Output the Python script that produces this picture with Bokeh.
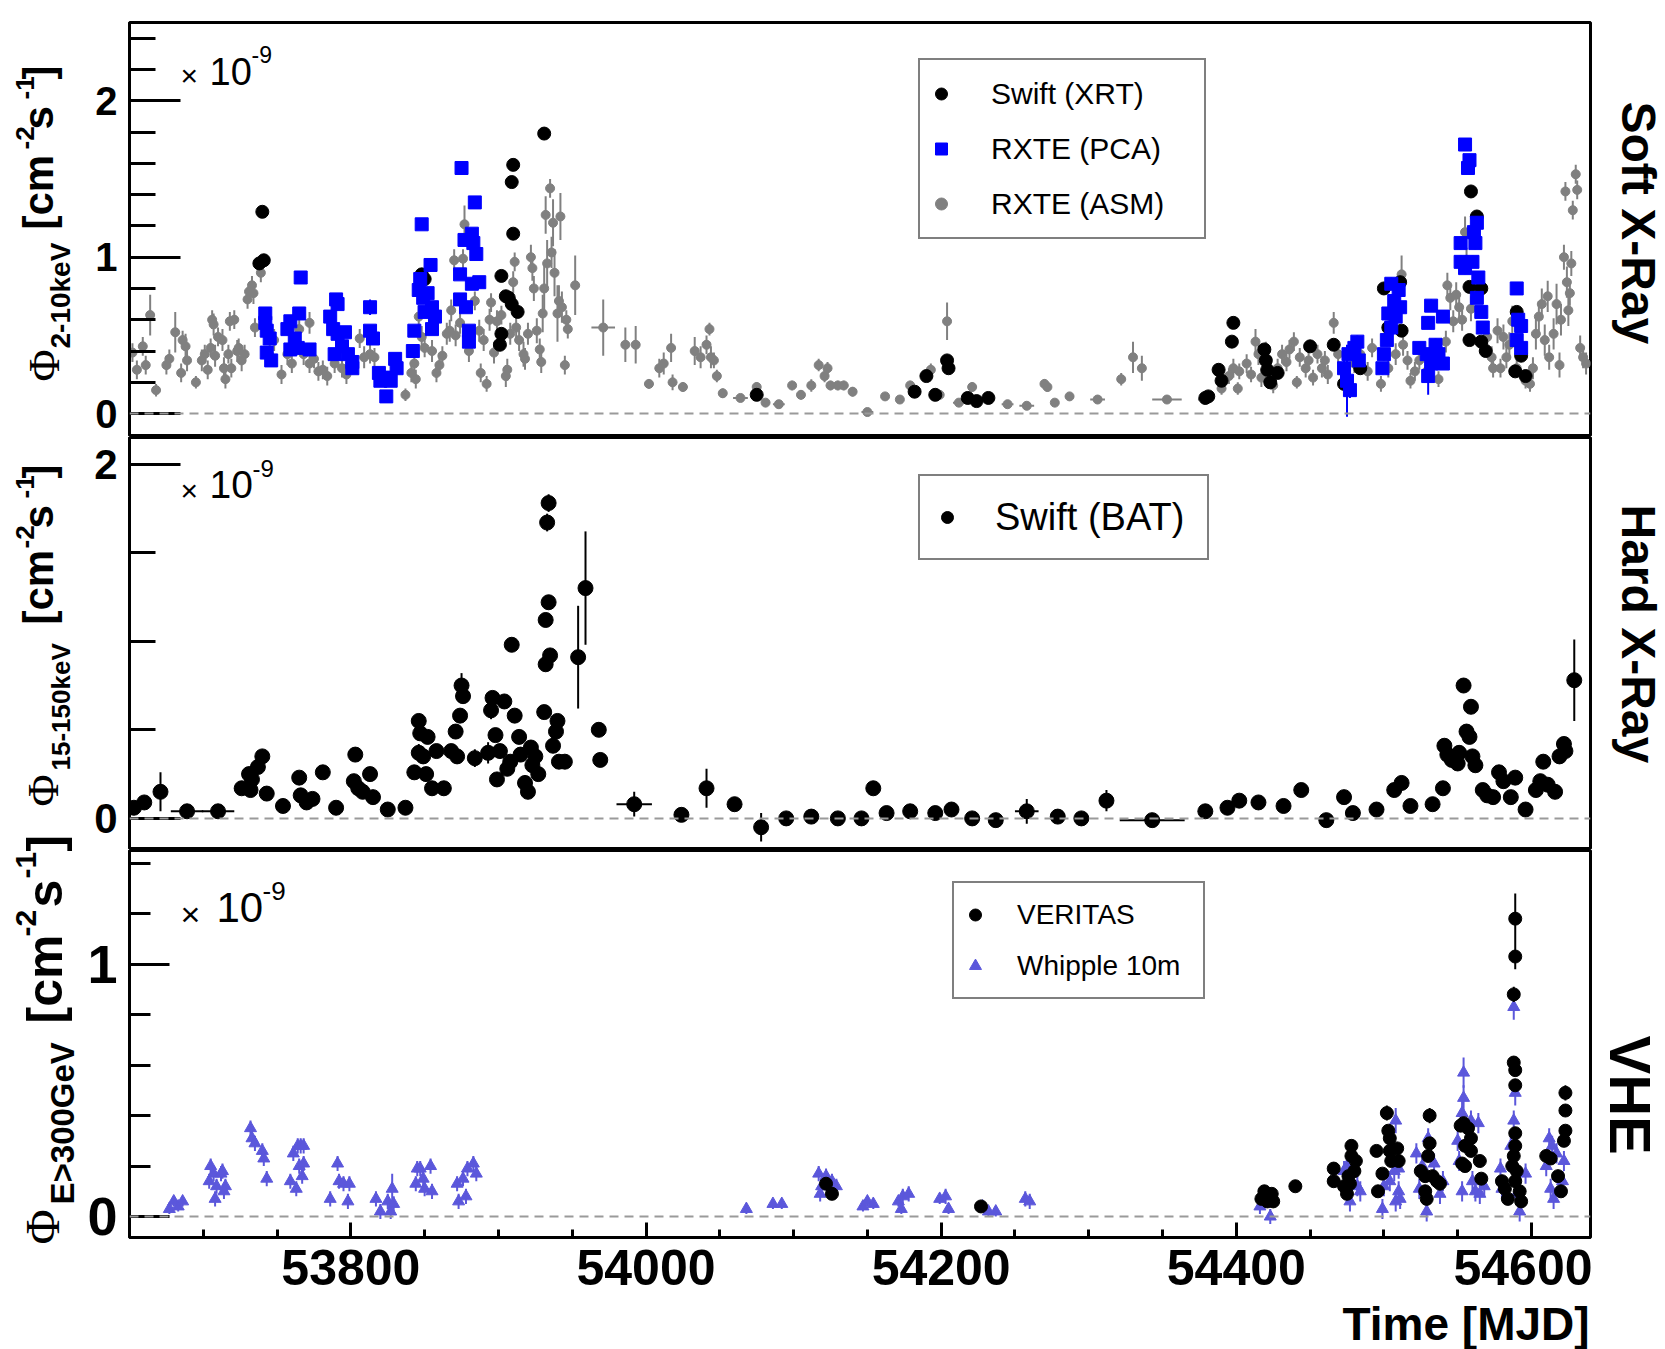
import numpy as np
from math import pi
from bokeh.plotting import figure
from bokeh.models import Range1d, FixedTicker, Label, Legend, LegendItem, ColumnDataSource, Span
from bokeh.layouts import column, row
from bokeh.embed import file_html
from bokeh.resources import INLINE

# ---------------- data (values in units of 1e-9 cm^-2 s^-1) ----------------
asm_mjd = [53652,53655,53659,53661,53664,53668,53675,53677,53681,53685,53686,53688,53689,53695,53699,53701,53703,53705,53706,53707,
           53708,53710,53713,53714,53715,53717,53718,53719,53721,53723,53724,53726,53728,53730,53731,53733,53734,53735,53739,53745,
           53748,53753,53757,53760,53765,53768,53772,53772,53775,53778,53781,53784,53789,53794,53797,53801,53806,53809,53813,53816,
           53837,53841,53843,53844,53846,53848,53850,53855,53858,53860,53862,53865,53867,53868,53870,53871,53874,53876,53877,53880,
           53884,53887,53888,53890,53892,53894,53895,53897,53899,53902,53905,53906,53908,53910,53911,53912,53914,53917,53918,53920,
           53922,53923,53924,53926,53928,53929,53930,53931,53932,53933,53935,53936,53937,53938,53940,53941,53942,53943,53945,53946,
           53947,53952,53971,53986,53993,54002,54009,54012,54017,54018,54025,54033,54037,54041,54043,54044,54046,54048,54052,54064,
           54075,54081,54090,54099,54105,54112,54117,54121,54123,54125,54130,54134,54140,54150,54162,54172,54179,54193,54199,54204,
           54212,54221,54245,54258,54270,54272,54277,54287,54306,54322,54330,54336,54353,54379,54390,54395,54398,54401,54402,54407,
           54410,54413,54415,54417,54420,54425,54428,54431,54434,54436,54439,54441,54443,54447,54449,54452,54455,54458,54460,54462,
           54466,54469,54473,54480,54484,54489,54492,54498,54503,54508,54512,54513,54516,54518,54521,54524,54529,54535,54537,54542,
           54543,54545,54547,54549,54551,54553,54555,54556,54559,54570,54573,54574,54577,54579,54581,54583,54585,54587,54590,54593,
           54596,54599,54601,54603,54605,54607,54609,54611,54612,54615,54617,54619,54620,54622,54623,54624,54625,54626,54627,54628,
           54630,54631,54633,54635,54637]
asm_flux = [0.39,0.28,0.43,0.31,0.63,0.15,0.31,0.35,0.52,0.26,0.47,0.43,0.34,0.20,0.34,0.38,0.28,0.42,0.60,0.57,
            0.37,0.49,0.47,0.29,0.22,0.38,0.59,0.29,0.60,0.40,0.42,0.34,0.38,0.73,0.78,0.82,0.77,0.55,0.90,0.37,
            0.47,0.25,0.38,0.32,0.54,0.38,0.58,0.32,0.35,0.27,0.28,0.24,0.32,0.29,0.25,0.31,0.48,0.36,0.38,0.36,
            0.12,0.26,0.32,0.22,0.62,0.49,0.42,0.40,0.26,0.31,0.37,0.51,0.53,0.66,0.98,0.50,0.58,0.99,1.21,0.40,
            0.72,0.53,0.26,0.47,0.19,0.60,0.71,0.39,0.59,0.63,0.24,0.28,0.51,0.84,0.97,0.55,0.47,0.38,0.35,0.51,
            1.00,0.93,0.80,0.53,0.41,0.33,0.64,0.80,1.27,0.96,1.44,1.03,1.22,0.90,0.64,0.72,1.26,0.68,0.31,0.60,
            0.54,0.82,0.55,0.44,0.44,0.19,0.29,0.32,0.42,0.20,0.17,0.40,0.36,0.44,0.54,0.36,0.34,0.24,0.13,0.10,
            0.17,0.07,0.06,0.18,0.12,0.18,0.31,0.24,0.29,0.18,0.18,0.18,0.14,0.01,0.11,0.09,0.18,0.28,0.12,0.59,
            0.07,0.17,0.06,0.05,0.19,0.17,0.07,0.11,0.09,0.22,0.36,0.29,0.09,0.09,0.16,0.24,0.29,0.16,0.27,0.32,
            0.25,0.46,0.38,0.23,0.40,0.18,0.29,0.38,0.33,0.41,0.46,0.20,0.36,0.29,0.34,0.23,0.38,0.29,0.34,0.25,
            0.58,0.38,0.29,0.32,0.38,0.27,0.42,0.19,0.29,0.38,0.89,0.44,0.34,0.21,0.27,0.34,0.27,0.38,0.22,0.46,
            0.82,0.74,0.59,0.76,0.68,0.60,1.16,0.98,0.67,0.49,0.36,0.29,0.53,0.29,0.49,0.36,0.44,0.59,0.29,0.42,
            0.21,0.19,0.29,0.51,0.62,0.70,0.47,0.75,0.36,0.51,0.70,0.31,0.60,1.00,1.42,0.84,0.66,0.77,0.96,1.30,
            1.53,1.43,0.42,0.36,0.32]
asm_err = [0.06,0.06,0.06,0.06,0.13,0.04,0.06,0.06,0.13,0.06,0.06,0.08,0.07,0.04,0.07,0.06,0.06,0.06,0.06,0.07,
           0.07,0.06,0.07,0.07,0.06,0.06,0.06,0.06,0.06,0.07,0.06,0.07,0.06,0.06,0.06,0.06,0.07,0.06,0.06,0.07,
           0.07,0.06,0.07,0.06,0.08,0.07,0.07,0.06,0.06,0.06,0.06,0.06,0.06,0.06,0.06,0.06,0.06,0.07,0.06,0.06,
           0.04,0.06,0.06,0.06,0.07,0.07,0.06,0.07,0.06,0.06,0.06,0.07,0.07,0.07,0.07,0.07,0.07,0.06,0.12,0.07,
           0.06,0.07,0.06,0.07,0.05,0.07,0.06,0.07,0.07,0.06,0.07,0.07,0.07,0.07,0.06,0.07,0.07,0.08,0.07,0.07,
           0.08,0.08,0.08,0.08,0.07,0.07,0.12,0.15,0.12,0.15,0.06,0.10,0.15,0.15,0.18,0.10,0.15,0.10,0.06,0.06,
           0.06,0.19,0.18,0.11,0.12,0.03,0.06,0.07,0.09,0.05,0.03,0.09,0.07,0.06,0.04,0.07,0.05,0.04,0.03,0.02,
           0.03,0.02,0.02,0.03,0.03,0.04,0.04,0.04,0.04,0.03,0.03,0.03,0.03,0.02,0.02,0.02,0.03,0.04,0.03,0.12,
           0.02,0.03,0.02,0.02,0.03,0.03,0.02,0.02,0.02,0.04,0.10,0.08,0.02,0.02,0.04,0.05,0.06,0.04,0.05,0.06,
           0.05,0.08,0.07,0.06,0.06,0.05,0.06,0.06,0.06,0.06,0.06,0.04,0.06,0.06,0.06,0.05,0.06,0.06,0.06,0.06,
           0.07,0.06,0.06,0.06,0.06,0.06,0.06,0.05,0.06,0.07,0.12,0.07,0.06,0.05,0.06,0.06,0.06,0.07,0.05,0.07,
           0.08,0.08,0.07,0.08,0.08,0.07,0.10,0.08,0.08,0.07,0.07,0.06,0.08,0.06,0.08,0.07,0.08,0.10,0.06,0.08,
           0.05,0.05,0.07,0.10,0.10,0.10,0.10,0.10,0.08,0.10,0.13,0.08,0.10,0.08,0.06,0.10,0.10,0.08,0.08,0.06,
           0.06,0.06,0.08,0.07,0.07]
asm_xerr_mjd = [53971,54002,54025,54064,54090,54130,54134,54150,54212,54245,54258,54287,54306,54353,54379]
asm_xerr_flux = [0.55,0.19,0.17,0.10,0.06,0.18,0.18,0.01,0.07,0.06,0.05,0.11,0.09,0.09,0.09]
asm_xerr_days = [8,3,3,5,4,3,3,4,4,4,5,3,5,10,5]

pca_mjd = [53742,53742,53743,53745,53743,53746,53766,53759,53757,53765,53762,53759,53764,53772,
           53790,53791,53786,53788,53791,53796,53794,53789,53798,53801,53801,
           53813,53813,53815,53819,53820,53823,53824,53827,53830,53831,
           53842,53843,53847,53848,53846,53849,53852,53854,53850,53855,53857,53855,
           53874,53875,53874,53878,53877,53882,53883,53884,53885,53882,53887,53880,53880,
           54473,54475,54477,54476,54480,54482,54483,
           54499,54500,54502,54503,54505,54507,54508,54510,54511,54505,
           54532,54530,54540,54524,54529,54532,54537,54540,54530,54535,
           54555,54558,54557,54563,54561,54552,54562,54552,54555,54560,54564,54563,54566,54567,
           54590,54591,54593,54590,54593]
pca_flux = [0.64,0.58,0.53,0.48,0.39,0.34,0.87,0.59,0.54,0.64,0.48,0.41,0.42,0.41,
            0.73,0.70,0.62,0.54,0.51,0.52,0.43,0.38,0.38,0.33,0.29,
            0.68,0.53,0.48,0.26,0.21,0.23,0.11,0.21,0.35,0.29,
            0.40,0.53,0.86,1.21,0.79,0.74,0.77,0.95,0.65,0.68,0.62,0.54,
            0.89,1.57,0.73,0.68,1.11,1.15,1.09,1.35,1.02,0.83,0.84,0.53,0.46,
            0.29,0.21,0.15,0.38,0.42,0.46,0.34,
            0.29,0.38,0.47,0.64,0.83,0.72,0.62,0.79,0.68,0.55,
            0.69,0.58,0.62,0.42,0.38,0.32,0.38,0.32,0.24,0.44,
            1.72,1.62,1.57,1.22,1.16,1.09,1.09,0.97,0.93,0.97,0.87,0.74,0.65,0.55,
            0.80,0.60,0.56,0.47,0.42]
pca_err = [0.03,0.03,0.03,0.03,0.03,0.03,0.03,0.03,0.03,0.03,0.03,0.03,0.03,0.03,
           0.03,0.03,0.03,0.03,0.03,0.03,0.03,0.03,0.03,0.03,0.03,
           0.05,0.03,0.03,0.03,0.03,0.03,0.03,0.03,0.03,0.03,
           0.03,0.03,0.03,0.03,0.03,0.03,0.03,0.03,0.03,0.03,0.03,0.03,
           0.03,0.03,0.03,0.03,0.03,0.03,0.03,0.03,0.03,0.03,0.03,0.03,0.03,
           0.05,0.23,0.05,0.04,0.04,0.04,0.04,
           0.04,0.04,0.04,0.04,0.04,0.04,0.04,0.04,0.04,0.04,
           0.04,0.04,0.04,0.04,0.04,0.04,0.04,0.04,0.12,0.04,
           0.04,0.04,0.04,0.04,0.04,0.04,0.04,0.04,0.04,0.04,0.04,0.04,0.04,0.04,
           0.04,0.04,0.04,0.04,0.04]

xrt_mjd = [53740,53738,53741,53848,53850,53910,53909,53910,53931,53902,53905,53907,53909,53913,53902,53901,54075,
           54182,54190,54196,54204,54205,54218,54224,54232,54379,54381,54388,54390,54398,54397,54419,54420,54421,
           54423,54428,54450,54466,54484,54473,54500,54511,54512,54503,54559,54563,54558,54566,54558,54566,54569,
           54590,54593,54589,54596]
xrt_flux = [1.29,0.96,0.98,0.89,0.86,1.59,1.48,1.15,1.79,0.88,0.75,0.74,0.70,0.65,0.51,0.44,0.12,
            0.14,0.24,0.12,0.34,0.29,0.10,0.08,0.10,0.10,0.11,0.28,0.21,0.58,0.46,0.41,0.34,0.28,
            0.20,0.26,0.43,0.44,0.29,0.19,0.80,0.84,0.53,0.55,1.42,1.26,0.81,0.80,0.47,0.46,0.40,
            0.65,0.37,0.27,0.24]
xrt_err = [0.03,0.03,0.03,0.03,0.03,0.03,0.03,0.03,0.03,0.03,0.03,0.03,0.03,0.03,0.03,0.03,0.02,
           0.02,0.02,0.02,0.02,0.02,0.02,0.02,0.02,0.02,0.02,0.02,0.02,0.03,0.03,0.02,0.02,0.02,
           0.02,0.02,0.02,0.02,0.02,0.02,0.03,0.03,0.03,0.03,0.03,0.03,0.03,0.03,0.03,0.03,0.03,
           0.03,0.02,0.02,0.02]

bat_mjd = [53653,53660,53671,53689,53710,53726,53731,53733,53737,53740,53732,53743,53754,53765,53766,53770,53774,53781,53790,53803,
           53802,53805,53808,53813,53815,53825,53837,53843,53846,53847,53846,53849,53852,53851,53855,53858,53863,53868,53871,53874,
           53875,53876,53872,53884,53893,53895,53896,53898,53899,53901,53904,53906,53908,53909,53911,53914,53915,53918,53920,53922,
           53923,53925,53927,53931,53932,53932,53934,53933,53934,53935,53937,53939,53940,53941,53945,53954,53959,53968,53969,53992,
           54024,54041,54060,54078,54095,54112,54130,54146,54154,54163,54179,54196,54207,54221,54237,54258,54279,54295,54312,54343,
           54379,54394,54402,54415,54432,54444,54461,54473,54479,54495,54507,54512,54518,54533,54540,54541,54543,54546,54550,54551,
           54554,54556,54558,54559,54560,54562,54567,54570,54574,54578,54581,54586,54589,54596,54603,54606,54608,54611,54616,54619,
           54622,54623,54629]
bat_flux = [0.06,0.09,0.15,0.04,0.04,0.17,0.25,0.22,0.29,0.35,0.16,0.14,0.07,0.23,0.13,0.09,0.11,0.26,0.06,0.36,
            0.21,0.17,0.15,0.25,0.12,0.05,0.06,0.26,0.55,0.48,0.37,0.35,0.46,0.25,0.17,0.38,0.17,0.38,0.49,0.58,
            0.75,0.69,0.35,0.34,0.37,0.61,0.68,0.47,0.22,0.38,0.66,0.28,0.32,0.98,0.58,0.46,0.36,0.20,0.15,0.40,
            0.30,0.35,0.25,0.60,0.87,1.12,1.22,1.67,1.78,0.92,0.41,0.49,0.55,0.32,0.32,0.91,1.30,0.50,0.33,0.08,
            0.02,0.17,0.08,-0.05,0.00,0.01,0.00,0.00,0.17,0.03,0.04,0.03,0.05,0.00,-0.01,0.04,0.01,0.00,0.10,-0.01,
            0.04,0.06,0.10,0.09,0.07,0.16,-0.01,0.12,0.03,0.05,0.16,0.20,0.07,0.08,0.17,0.41,0.36,0.33,0.31,0.37,
            0.75,0.49,0.46,0.63,0.35,0.30,0.16,0.13,0.12,0.26,0.21,0.12,0.23,0.05,0.16,0.21,0.32,0.19,0.15,0.35,
            0.42,0.38,0.78]
bat_err = [0.03,0.03,0.11,0.02,0.02,0.03,0.04,0.04,0.03,0.03,0.03,0.03,0.03,0.03,0.03,0.03,0.03,0.03,0.03,0.03,
           0.03,0.03,0.03,0.03,0.03,0.03,0.03,0.04,0.04,0.04,0.05,0.04,0.04,0.04,0.04,0.04,0.04,0.04,0.04,0.04,
           0.07,0.04,0.04,0.05,0.06,0.05,0.04,0.04,0.04,0.04,0.04,0.04,0.04,0.04,0.04,0.04,0.04,0.04,0.04,0.04,
           0.04,0.04,0.04,0.04,0.04,0.04,0.04,0.05,0.05,0.04,0.04,0.04,0.04,0.04,0.04,0.29,0.32,0.04,0.04,0.07,
           0.04,0.11,0.04,0.08,0.03,0.03,0.03,0.03,0.02,0.03,0.03,0.03,0.03,0.02,0.03,0.07,0.03,0.03,0.06,0.02,
           0.03,0.03,0.03,0.03,0.03,0.03,0.04,0.04,0.03,0.03,0.03,0.04,0.03,0.03,0.03,0.04,0.04,0.04,0.04,0.04,
           0.04,0.04,0.04,0.04,0.04,0.04,0.04,0.04,0.04,0.04,0.04,0.04,0.04,0.03,0.04,0.04,0.04,0.04,0.04,0.04,
           0.04,0.04,0.23]
bat_xerr = [3,3,4,11,11,2,2,2,2,2,2,2,2,2,2,2,2,2,3,2,
            2,2,2,2,2,3,2,2,2,2,2,2,2,2,2,2,2,2,2,2,
            2,2,2,2,2,2,2,2,2,2,2,2,2,2,2,2,2,2,2,2,
            2,2,2,2,2,2,2,2,2,2,2,2,2,2,2,0,0,2,2,12,
            3,3,3,0,3,3,3,3,0,3,3,3,2,2,2,8,3,3,2,22,
            3,3,2,2,2,2,3,2,2,2,2,2,2,2,2,2,2,2,2,2,
            2,2,2,2,2,2,2,2,2,2,2,2,2,2,2,2,2,2,2,2,
            2,2,0]

whip_mjd = [53677,53680,53683,53686,53705,53704,53707,53709,53708,53712,53713,53715,53714,
            53732,53733,53735,53740,53741,53743,53759,53761,53764,53766,53768,53765,53768,53767,53763,
            53791,53792,53795,53799,53786,53798,53817,53820,53825,53827,53829,53828,
            53845,53844,53847,53849,53854,53850,53855,53876,53879,53883,53873,53885,53878,53872,
            54068,54086,54092,54117,54119,54122,54126,54129,54118,54147,54150,54154,54171,54174,54178,54173,
            54199,54203,54205,54228,54232,54237,54257,54260,
            54416,54423,54473,54477,54482,54484,54475,54499,54500,54504,54508,54508,54507,54510,54511,54510,
            54522,54524,54526,54529,54530,54534,54538,54540,54554,54554,54553,54550,54551,54553,54559,54560,
            54562,54564,54565,54568,54588,54589,54588,54586,54579,54580,54592,54596,54590,54612,54614,54610,
            54617,54615,54622,54621,54613]
whip_flux = [0.03,0.06,0.04,0.06,0.20,0.14,0.17,0.12,0.07,0.17,0.18,0.12,0.10,
             0.35,0.31,0.29,0.26,0.23,0.15,0.14,0.25,0.28,0.28,0.28,0.20,0.21,0.16,0.11,
             0.21,0.14,0.13,0.13,0.07,0.06,0.07,0.02,0.06,0.02,0.05,0.11,
             0.19,0.13,0.19,0.15,0.20,0.11,0.10,0.15,0.19,0.21,0.06,0.17,0.08,0.13,
             0.03,0.05,0.05,0.17,0.12,0.16,0.14,0.12,0.09,0.04,0.06,0.05,0.06,0.08,0.09,0.03,
             0.07,0.08,0.03,0.04,0.02,0.02,0.07,0.06,
             0.04,0.00,0.18,0.06,0.12,0.10,0.20,0.03,0.12,0.14,0.38,0.06,0.18,0.10,0.07,0.19,
             0.25,0.11,0.20,0.02,0.31,0.21,0.09,0.14,0.57,0.47,0.41,0.30,0.22,0.10,0.38,0.14,
             0.10,0.37,0.09,0.12,0.83,0.49,0.38,0.28,0.19,0.11,0.02,0.17,0.09,0.31,0.28,0.20,
             0.25,0.07,0.22,0.14,0.11]
whip_err = [0.02,0.02,0.02,0.02,0.03,0.03,0.03,0.03,0.03,0.03,0.03,0.03,0.03,
            0.03,0.03,0.03,0.03,0.03,0.03,0.03,0.03,0.03,0.03,0.03,0.03,0.03,0.03,0.03,
            0.03,0.03,0.03,0.03,0.03,0.03,0.03,0.03,0.03,0.03,0.03,0.06,
            0.03,0.03,0.03,0.03,0.03,0.03,0.03,0.03,0.03,0.03,0.03,0.03,0.03,0.03,
            0.02,0.02,0.02,0.03,0.03,0.03,0.03,0.03,0.03,0.02,0.02,0.02,0.02,0.03,0.03,0.02,
            0.02,0.03,0.02,0.02,0.02,0.02,0.03,0.03,
            0.03,0.03,0.04,0.04,0.04,0.04,0.04,0.04,0.04,0.04,0.05,0.04,0.04,0.04,0.04,0.04,
            0.04,0.04,0.04,0.04,0.04,0.04,0.04,0.04,0.06,0.05,0.05,0.04,0.04,0.04,0.04,0.04,
            0.04,0.04,0.04,0.04,0.05,0.05,0.04,0.04,0.04,0.04,0.04,0.04,0.04,0.04,0.04,0.04,
            0.04,0.04,0.04,0.04,0.04]

ver_mjd = [54122,54126,54227,54419,54417,54421,54424,54425,54422,54440,54466,54466,54473,54475,54477,54478,54478,54481,54480,54476,
           54495,54496,54499,54502,54503,54504,54504,54505,54509,54510,54531,54531,54530,54525,54528,54533,54536,54538,54528,54529,
           54552,54554,54557,54559,54555,54559,54553,54555,54565,54566,54589,54589,54588,54588,54589,54589,54589,54589,54588,54587,
           54590,54589,54580,54582,54584,54592,54593,54610,54613,54618,54620,54623,54623,54623,54622]
ver_flux = [0.13,0.09,0.04,0.10,0.07,0.06,0.09,0.06,0.08,0.12,0.19,0.14,0.12,0.09,0.13,0.28,0.24,0.22,0.18,0.16,
            0.26,0.10,0.17,0.41,0.34,0.31,0.26,0.22,0.27,0.22,0.40,0.29,0.24,0.18,0.16,0.16,0.14,0.13,0.10,0.07,
            0.36,0.37,0.35,0.31,0.28,0.26,0.21,0.20,0.22,0.15,1.18,1.03,0.88,0.61,0.58,0.52,0.33,0.28,0.24,0.20,
            0.18,0.14,0.14,0.11,0.07,0.10,0.06,0.24,0.23,0.16,0.10,0.49,0.42,0.34,0.30]
ver_err = [0.02,0.02,0.01,0.02,0.02,0.02,0.02,0.02,0.02,0.02,0.02,0.02,0.02,0.02,0.02,0.02,0.02,0.02,0.02,0.02,
           0.02,0.02,0.02,0.03,0.02,0.02,0.02,0.02,0.02,0.02,0.03,0.02,0.02,0.02,0.02,0.02,0.02,0.02,0.02,0.02,
           0.02,0.02,0.02,0.02,0.02,0.02,0.02,0.02,0.02,0.02,0.10,0.05,0.03,0.02,0.02,0.02,0.02,0.02,0.02,0.02,
           0.02,0.02,0.02,0.02,0.02,0.02,0.02,0.02,0.02,0.02,0.02,0.03,0.02,0.02,0.02]

# ticks
x_major = [53800, 54000, 54200, 54400, 54600]
x_minor = [53700, 53750, 53850, 53900, 53950, 54050, 54100, 54150, 54250, 54300, 54350, 54450, 54500, 54550]
soft_major = [0, 1, 2]
soft_minor = [0.2, 0.4, 0.6, 0.8, 1.2, 1.4, 1.6, 1.8, 2.2, 2.4]
hard_major = [0, 2]
hard_minor = [0.5, 1.0, 1.5]
vhe_major = [0, 1]
vhe_minor = [0.2, 0.4, 0.6, 0.8, 1.2, 1.4]

SANS = "Liberation Sans"
SERIF = "Liberation Serif"
W, H = 1665, 1349
LW = 80            # left title strip width
MW = 1512          # main column width
RW = W - LW - MW   # right label strip width (starts at x=1592)
FRAME_L = 129      # frame left in page pixels

xr = Range1d(53650, 54640)


def make_fig(h, top, bottom, yr, xaxis):
    p = figure(width=MW, height=h, x_range=xr, y_range=Range1d(*yr),
               output_backend="svg", toolbar_location=None,
               x_axis_location="below" if xaxis else None,
               min_border_left=FRAME_L - LW, min_border_right=2,
               min_border_top=top, min_border_bottom=bottom,
               background_fill_color="white", border_fill_color="white",
               outline_line_color="black", outline_line_width=3)
    p.grid.visible = False
    return p


def blank_fig(w, h, bl=0, br=0):
    p = figure(width=w, height=h, x_range=Range1d(0, 1), y_range=Range1d(0, 1),
               output_backend="svg", toolbar_location=None,
               x_axis_location=None, y_axis_location=None,
               min_border_left=bl, min_border_right=br, min_border_top=0, min_border_bottom=0,
               background_fill_color="white", border_fill_color="white", outline_line_color=None)
    p.grid.visible = False
    return p


def style_y(p, major, minor, tin, tmin, fsize):
    ax = p.yaxis[0]
    ax.ticker = FixedTicker(ticks=major, minor_ticks=minor)
    ax.major_tick_in = tin
    ax.major_tick_out = 0
    ax.minor_tick_in = tmin
    ax.minor_tick_out = 0
    ax.major_tick_line_width = 3
    ax.minor_tick_line_width = 3
    ax.axis_line_width = 3
    ax.major_label_text_font = SANS
    ax.major_label_text_font_style = "bold"
    ax.major_label_text_font_size = f"{fsize}px"
    ax.major_label_text_color = "black"
    ax.major_label_standoff = 12


def lab(p, x, y, text, size, angle=0.0, font=SANS, style="normal", align="left"):
    # x, y: screen position inside the frame of p (origin bottom-left); y is the text's middle line
    p.add_layout(Label(x=x, y=y, x_units="screen", y_units="screen", text=text,
                       angle=angle, text_font=font, text_font_size=f"{size}px",
                       text_font_style=style, text_align=align, text_baseline="middle",
                       text_color="black"))


def errbars(p, mjd, flux, err, color, width=2, xerr=None):
    mjd = np.array(mjd, dtype=float)
    flux = np.array(flux, dtype=float)
    err = np.array(err, dtype=float)
    src = ColumnDataSource(dict(x=mjd, lo=flux - err, hi=flux + err))
    p.segment(x0="x", y0="lo", x1="x", y1="hi", source=src, line_color=color, line_width=width)
    if xerr is not None:
        xe = np.array(xerr, dtype=float)
        src2 = ColumnDataSource(dict(y=flux, x0=mjd - xe, x1=mjd + xe))
        p.segment(x0="x0", y0="y", x1="x1", y1="y", source=src2, line_color=color, line_width=width)


def zero_line(p):
    p.add_layout(Span(location=0, dimension="width", line_color="#9a9a9a", line_width=2, line_dash="9 6"))


# ---------------- panel 1: soft X-ray ----------------
B1 = 435
p1 = make_fig(436, 22, 1, (-0.14, 2.5), False)
style_y(p1, soft_major, soft_minor, 51, 26, 40)
zero_line(p1)
errbars(p1, asm_mjd, asm_flux, asm_err, "#808080")
errbars(p1, asm_xerr_mjd, asm_xerr_flux, [0.0] * len(asm_xerr_mjd), "#808080", xerr=asm_xerr_days)
r_asm = p1.scatter(asm_mjd, asm_flux, marker="circle", size=9, fill_color="#808080", line_color="#808080")
errbars(p1, xrt_mjd, xrt_flux, xrt_err, "black")
r_xrt = p1.scatter(xrt_mjd, xrt_flux, marker="circle", size=13, fill_color="black", line_color="black")
errbars(p1, pca_mjd, pca_flux, pca_err, "#0000ff")
r_pca = p1.scatter(pca_mjd, pca_flux, marker="square", size=13, fill_color="#0000ff", line_color="#0000ff")

leg1 = Legend(items=[LegendItem(label="Swift (XRT)", renderers=[r_xrt]),
                     LegendItem(label="RXTE (PCA)", renderers=[r_pca]),
                     LegendItem(label="RXTE (ASM)", renderers=[r_asm])],
              location=(918 - FRAME_L, B1 - 239), padding=6, spacing=0,
              glyph_width=30, glyph_height=55, label_height=55, label_standoff=35, label_width=207,
              label_text_font=SANS, label_text_font_size="30px", label_text_color="black",
              border_line_color="black", border_line_width=2, background_fill_color="white",
              background_fill_alpha=1.0, margin=0)
p1.add_layout(leg1)
lab(p1, 180 - FRAME_L, B1 - 75, "×", 30)
lab(p1, 209 - FRAME_L, B1 - 71, "10", 38)
lab(p1, 251 - FRAME_L, B1 - 54, "-9", 23)

# ---------------- panel 2: hard X-ray ----------------
B2 = 848
p2 = make_fig(413, 1, 1, (-0.17, 2.15), False)
style_y(p2, hard_major, hard_minor, 51, 26, 42)
zero_line(p2)
errbars(p2, bat_mjd, bat_flux, bat_err, "black", xerr=bat_xerr)
r_bat = p2.scatter(bat_mjd, bat_flux, marker="circle", size=15, fill_color="black", line_color="black")
leg2 = Legend(items=[LegendItem(label="Swift (BAT)", renderers=[r_bat])],
              location=(918 - FRAME_L, B2 - 560), padding=12, spacing=0,
              glyph_width=30, glyph_height=58, label_height=58, label_standoff=33, label_width=200,
              label_text_font=SANS, label_text_font_size="38px", label_text_color="black",
              border_line_color="black", border_line_width=2, background_fill_color="white",
              background_fill_alpha=1.0, margin=0)
p2.add_layout(leg2)
lab(p2, 180 - FRAME_L, B2 - 490, "×", 30)
lab(p2, 209 - FRAME_L, B2 - 484, "10", 39)
lab(p2, 252 - FRAME_L, B2 - 468, "-9", 24)

# ---------------- panel 3: VHE ----------------
B3 = 1237
P3H = 448                                    # page y 849..1297, frame bottom at 1237
p3 = make_fig(P3H, 1, 60, (-0.083, 1.45), True)
style_y(p3, vhe_major, vhe_minor, 40, 21, 54)
xa = p3.xaxis[0]
xa.ticker = FixedTicker(ticks=x_major, minor_ticks=x_minor)
xa.major_tick_in = 15
xa.major_tick_out = 0
xa.minor_tick_in = 8
xa.minor_tick_out = 0
xa.major_tick_line_width = 3
xa.minor_tick_line_width = 3
xa.axis_line_width = 3
xa.major_label_text_font = SANS
xa.major_label_text_font_style = "bold"
xa.major_label_text_font_size = "50px"
xa.major_label_text_color = "black"
xa.major_label_standoff = 12
zero_line(p3)
errbars(p3, whip_mjd, whip_flux, whip_err, "#5b57db")
r_whip = p3.scatter(whip_mjd, whip_flux, marker="triangle", size=12, fill_color="#5b57db", line_color="#5b57db")
errbars(p3, ver_mjd, ver_flux, ver_err, "black")
r_ver = p3.scatter(ver_mjd, ver_flux, marker="circle", size=13, fill_color="black", line_color="black")
leg3 = Legend(items=[LegendItem(label="VERITAS", renderers=[r_ver]),
                     LegendItem(label="Whipple 10m", renderers=[r_whip])],
              location=(952 - FRAME_L, B3 - 999), padding=6, spacing=0,
              glyph_width=30, glyph_height=51, label_height=51, label_standoff=27, label_width=180,
              label_text_font=SANS, label_text_font_size="28px", label_text_color="black",
              border_line_color="black", border_line_width=2, background_fill_color="white",
              background_fill_alpha=1.0, margin=0)
p3.add_layout(leg3)
lab(p3, 180 - FRAME_L, B3 - 913, "×", 34)
lab(p3, 216 - FRAME_L, B3 - 907, "10", 42)
lab(p3, 262 - FRAME_L, B3 - 890, "-9", 26)

# ---------------- x-axis title strip (frame aligned with the panels) ----------------
TH = H - 436 - 413 - P3H          # page y 1297..1349
tfig = blank_fig(MW, TH, bl=FRAME_L - LW, br=2)
lab(tfig, 1342 - FRAME_L, TH / 2, "Time [MJD]", 46, style="bold", align="left")

# ---------------- left strip: y-axis titles (page coords -> strip coords) ----------------
left = blank_fig(LW, H)
V = pi / 2
def ltxt(X, Y, text, size, font=SANS, style="bold"):
    lab(left, X, H - Y, text, size, angle=V, font=font, style=style)

# soft X-ray title
ltxt(44, 381, "Φ", 44, font=SERIF, style="normal")
ltxt(60, 348, "2-10keV", 28)
ltxt(38, 229, "[cm", 42)
ltxt(24, 149, "-2", 26)
ltxt(38, 129, "s", 42)
ltxt(24, 99, "-1", 26)
ltxt(38, 79, "]", 42)
# hard X-ray title
ltxt(43, 806, "Φ", 44, font=SERIF, style="normal")
ltxt(60, 770, "15-150keV", 26)
ltxt(38, 624, "[cm", 42)
ltxt(24, 548, "-2", 26)
ltxt(38, 528, "s", 42)
ltxt(24, 498, "-1", 26)
ltxt(38, 478, "]", 42)
# VHE title
ltxt(42, 1244, "Φ", 48, font=SERIF, style="normal")
ltxt(62, 1204, "E>300GeV", 33)
ltxt(44, 1023, "[cm", 50)
ltxt(25, 936, "-2", 30)
ltxt(44, 907, "s", 50)
ltxt(25, 878, "-1", 30)
ltxt(44, 851, "]", 50)

# ---------------- right strip: band names ----------------
right = blank_fig(RW, H)
X0R = LW + MW
lab(right, 1638 - X0R, H - 101, "Soft X-Ray", 48, angle=-V, style="bold")
lab(right, 1638 - X0R, H - 504, "Hard X-Ray", 48, angle=-V, style="bold")
lab(right, 1630 - X0R, H - 1035, "VHE", 58, angle=-V, style="bold")

layout = row(left, column(p1, p2, p3, tfig, spacing=0), right, spacing=0)
open("out.html", "w").write(file_html(layout, INLINE))
